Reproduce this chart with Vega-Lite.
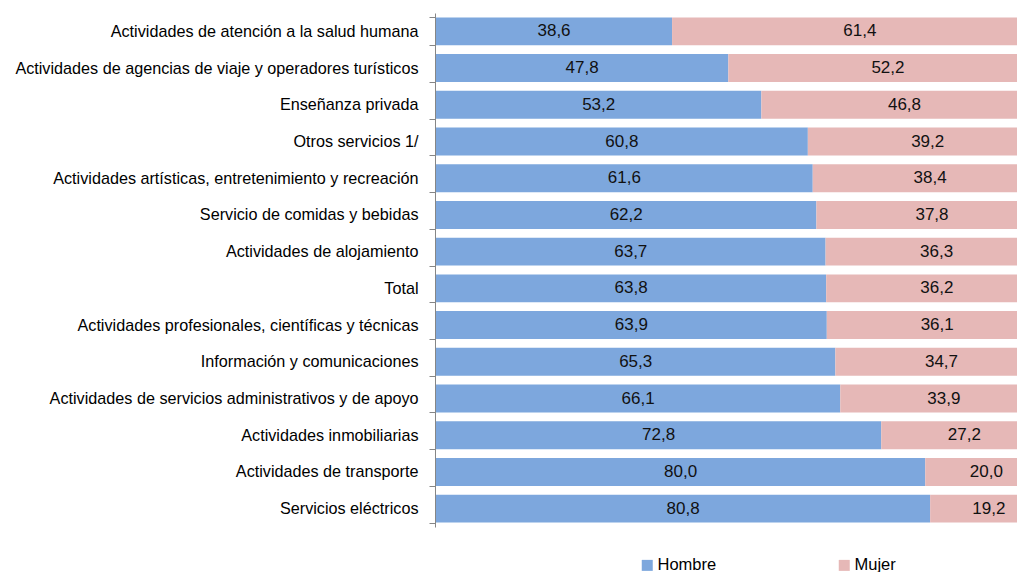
{
  "$schema": "https://vega.github.io/schema/vega-lite/v6.json",
  "autosize": {"type": "none"},
  "padding": {"left": 436, "top": 13, "right": 0, "bottom": 45},
  "width": 581,
  "height": 514,
  "background": "white",
  "config": {
    "view": {"stroke": null},
    "font": "Liberation Sans",
    "locale": {"number": {"decimal": ",", "thousands": ".", "grouping": [3], "currency": ["", ""]}}
  },
  "data": {
    "values": [
      {"sector": "Actividades de atención a la salud humana", "sexo": "Hombre", "valor": 38.6},
      {"sector": "Actividades de atención a la salud humana", "sexo": "Mujer", "valor": 61.4},
      {"sector": "Actividades de agencias de viaje y operadores turísticos", "sexo": "Hombre", "valor": 47.8},
      {"sector": "Actividades de agencias de viaje y operadores turísticos", "sexo": "Mujer", "valor": 52.2},
      {"sector": "Enseñanza privada", "sexo": "Hombre", "valor": 53.2},
      {"sector": "Enseñanza privada", "sexo": "Mujer", "valor": 46.8},
      {"sector": "Otros servicios 1/", "sexo": "Hombre", "valor": 60.8},
      {"sector": "Otros servicios 1/", "sexo": "Mujer", "valor": 39.2},
      {"sector": "Actividades artísticas, entretenimiento y recreación", "sexo": "Hombre", "valor": 61.6},
      {"sector": "Actividades artísticas, entretenimiento y recreación", "sexo": "Mujer", "valor": 38.4},
      {"sector": "Servicio de comidas y bebidas", "sexo": "Hombre", "valor": 62.2},
      {"sector": "Servicio de comidas y bebidas", "sexo": "Mujer", "valor": 37.8},
      {"sector": "Actividades de alojamiento", "sexo": "Hombre", "valor": 63.7},
      {"sector": "Actividades de alojamiento", "sexo": "Mujer", "valor": 36.3},
      {"sector": "Total", "sexo": "Hombre", "valor": 63.8},
      {"sector": "Total", "sexo": "Mujer", "valor": 36.2},
      {"sector": "Actividades profesionales, científicas y técnicas", "sexo": "Hombre", "valor": 63.9},
      {"sector": "Actividades profesionales, científicas y técnicas", "sexo": "Mujer", "valor": 36.1},
      {"sector": "Información y comunicaciones", "sexo": "Hombre", "valor": 65.3},
      {"sector": "Información y comunicaciones", "sexo": "Mujer", "valor": 34.7},
      {"sector": "Actividades de servicios administrativos y de apoyo", "sexo": "Hombre", "valor": 66.1},
      {"sector": "Actividades de servicios administrativos y de apoyo", "sexo": "Mujer", "valor": 33.9},
      {"sector": "Actividades inmobiliarias", "sexo": "Hombre", "valor": 72.8},
      {"sector": "Actividades inmobiliarias", "sexo": "Mujer", "valor": 27.2},
      {"sector": "Actividades de transporte", "sexo": "Hombre", "valor": 80.0},
      {"sector": "Actividades de transporte", "sexo": "Mujer", "valor": 20.0},
      {"sector": "Servicios eléctricos", "sexo": "Hombre", "valor": 80.8},
      {"sector": "Servicios eléctricos", "sexo": "Mujer", "valor": 19.2}
    ]
  },
  "encoding": {
    "y": {
      "field": "sector",
      "type": "nominal",
      "sort": null,
      "title": null,
      "scale": {"paddingInner": 0.24, "paddingOuter": 0.12},
      "axis": {
        "labelFontSize": 16.2,
        "labelColor": "#000000",
        "labelPadding": 11,
        "labelLimit": 500,
        "domainColor": "#868686",
        "tickColor": "#868686",
        "tickSize": 6,
        "tickBand": "extent",
        "grid": false,
        "offset": 1
      }
    }
  },
  "layer": [
    {
      "mark": {"type": "bar", "clip": true},
      "encoding": {
        "x": {"field": "valor", "type": "quantitative", "stack": "zero", "scale": {"domain": [0, 95], "nice": false, "zero": false}, "axis": null},
        "color": {
          "field": "sexo",
          "type": "nominal",
          "scale": {"domain": ["Hombre", "Mujer"], "range": ["#7da7dd", "#e6b8b7"]},
          "legend": {
            "title": null,
            "orient": "none",
            "legendX": 203,
            "legendY": 544,
            "direction": "horizontal",
            "columns": 2,
            "columnPadding": 119,
            "symbolType": "square",
            "symbolSize": 121,
            "symbolStrokeWidth": 0,
            "labelFontSize": 16.5,
            "labelColor": "#000000",
            "labelOffset": 2
          }
        },
        "order": {"field": "sexo", "sort": "ascending"}
      }
    },
    {
      "mark": {"type": "text", "fontSize": 17, "color": "#111111", "baseline": "middle", "align": "center"},
      "encoding": {
        "x": {"field": "valor", "type": "quantitative", "stack": "zero", "bandPosition": 0.5},
        "detail": {"field": "sexo", "type": "nominal"},
        "order": {"field": "sexo", "sort": "ascending"},
        "text": {"field": "valor", "type": "quantitative", "format": ".1f"}
      }
    }
  ]
}
